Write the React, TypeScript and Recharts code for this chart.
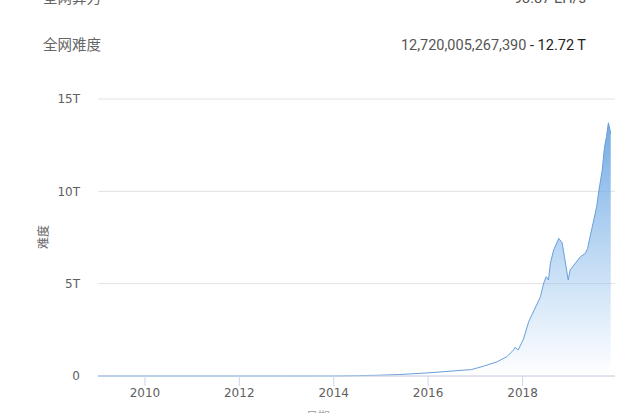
import React from 'react';
import { AreaChart, Area, XAxis, YAxis, CartesianGrid } from 'recharts';

// Dates of sampled difficulty readings
const dates = [
  '2009-01-03', '2010-01-01', '2011-01-01', '2012-01-01', '2013-01-01',
  '2013-07-01', '2014-01-01', '2014-07-01', '2015-01-01', '2015-05-27',
  '2016-01-01', '2016-06-18', '2016-12-02', '2017-03-04', '2017-06-18',
  '2017-09-02', '2017-10-23', '2017-11-03', '2017-11-28', '2018-01-08',
  '2018-02-17', '2018-04-23', '2018-05-19', '2018-06-13', '2018-07-02',
  '2018-07-20', '2018-08-04', '2018-08-29', '2018-10-08', '2018-11-03',
  '2018-11-21', '2018-12-20', '2019-01-04', '2019-02-02', '2019-03-25',
  '2019-05-01', '2019-05-19', '2019-06-07', '2019-07-06', '2019-07-28',
  '2019-08-15', '2019-09-09', '2019-09-27', '2019-10-12', '2019-10-27',
  '2019-11-14',
];

// Difficulty in T (10^12)
const difficultyT = [
  0, 0, 0.000002, 0.000001, 0.000003,
  0.00003, 0.0015, 0.018, 0.045, 0.08,
  0.17, 0.26, 0.35, 0.53, 0.77,
  1.05, 1.41, 1.55, 1.41, 2.0,
  2.94, 3.9, 4.29, 5.02, 5.38,
  5.2, 6.1, 6.82, 7.45, 7.22,
  6.46, 5.2, 5.74, 6.01, 6.46,
  6.64, 6.91, 7.54, 8.45, 9.17,
  10.07, 11.15, 12.41, 12.96, 13.71,
  13.14,
];

const xTickYears = [2010, 2012, 2014, 2016, 2018];
const yTicks = [0, 5, 10, 15];
const xDomainDates = ['2009-01-03', '2019-12-17'];

const headerLabels = ['全网算力', '全网难度'];
const headerValues = ['93.87 EH/s', '12,720,005,267,390'];
const headerSuffix = ['', ' - 12.72 T'];
const yAxisTitle = '难度';
const xAxisTitle = '日期';

const toTs = (d: string) => Date.parse(d + 'T00:00:00Z');

const data = dates.map((d, i) => ({ t: toTs(d), v: difficultyT[i] }));
const xTicks = xTickYears.map((y) => Date.UTC(y, 0, 1));
const xDomain = xDomainDates.map(toTs);

const rowBaselines = [3, 50];

export default function App() {
  return (
    <div style={{ position: 'absolute', left: 0, top: 0, width: 640, height: 413, background: '#fff', overflow: 'hidden' }}>
      <AreaChart
        width={640}
        height={413}
        data={data}
        margin={{ top: 99, right: 25, left: 0, bottom: 0 }}
      >
        <defs>
          <linearGradient id="diffFill" x1="0" y1="0" x2="0" y2="1">
            <stop offset="0%" stopColor="#74abe4" stopOpacity={1} />
            <stop offset="100%" stopColor="#7cb5ec" stopOpacity={0} />
          </linearGradient>
        </defs>
        <CartesianGrid vertical={false} stroke="#e2e2e2" />
        <XAxis
          dataKey="t"
          type="number"
          domain={xDomain}
          allowDataOverflow
          ticks={xTicks}
          tickFormatter={(v: number) => String(new Date(v).getUTCFullYear())}
          height={37}
          axisLine={{ stroke: '#ccd6eb' }}
          tickLine={{ stroke: '#ccd6eb' }}
          tickSize={10}
          tickMargin={2}
          tick={{ fill: '#606060', fontSize: 12, fontFamily: 'DejaVu Sans' }}
        />
        <YAxis
          type="number"
          domain={[0, 15]}
          ticks={yTicks}
          tickFormatter={(v: number) => (v === 0 ? '0' : `${v}T`)}
          width={98}
          axisLine={false}
          tickLine={false}
          tickSize={0}
          tickMargin={18}
          tick={{ fill: '#606060', fontSize: 12, fontFamily: 'DejaVu Sans' }}
        />
        <Area
          type="linear"
          dataKey="v"
          stroke="#6a9fd8"
          strokeWidth={1}
          fill="url(#diffFill)"
          fillOpacity={1}
          dot={false}
          activeDot={false}
          isAnimationActive={false}
        />
      </AreaChart>
      <svg
        width={640}
        height={413}
        style={{ position: 'absolute', left: 0, top: 0, pointerEvents: 'none' }}
      >
        {headerLabels.map((lab, i) => (
          <text
            key={'l' + i}
            x={43}
            y={rowBaselines[i]}
            fontSize={14.5}
            fill="#666"
            fontFamily="Roboto, 'Noto Sans CJK SC'"
          >
            {lab}
          </text>
        ))}
        {headerValues.map((val, i) => (
          <text
            key={'v' + i}
            x={586}
            y={rowBaselines[i]}
            fontSize={14.5}
            textAnchor="end"
            fontFamily="Roboto, 'Noto Sans CJK SC'"
          >
            <tspan fill="#555">{val}</tspan>
            {headerSuffix[i] ? <tspan fill="#222">{headerSuffix[i]}</tspan> : null}
          </text>
        ))}
        <text
          x={42}
          y={237}
          fontSize={12}
          fill="#666"
          textAnchor="middle"
          dominantBaseline="central"
          fontFamily="'Noto Sans CJK SC', 'DejaVu Sans'"
          transform="rotate(-90 42 237)"
        >
          {yAxisTitle}
        </text>
        <text
          x={318}
          y={421}
          fontSize={12}
          fill="#aaa"
          textAnchor="middle"
          fontFamily="'Noto Sans CJK SC', 'DejaVu Sans'"
        >
          {xAxisTitle}
        </text>
      </svg>
    </div>
  );
}
